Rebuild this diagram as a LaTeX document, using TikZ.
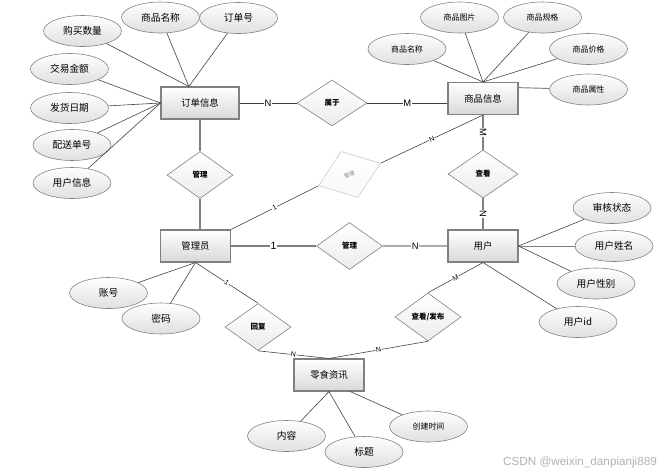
\documentclass[tikz,border=0pt]{standalone}
\usepackage{fontspec}
\setmainfont{Noto Sans CJK SC}
\newfontfamily\lat{Liberation Sans}
\usetikzlibrary{shapes.geometric, positioning}

\begin{document}
\begin{tikzpicture}[
        on grid,
        entity/.style={rectangle, draw=gray, line width=0.9pt, top color=white, bottom color=gray!30, minimum width=2.1cm, minimum height=0.96cm, inner sep=0pt, font=\fontsize{8}{10}\selectfont},
        attr/.style={ellipse, draw=gray, line width=0.5pt, top color=white, bottom color=gray!25, minimum width=2.34cm, minimum height=0.93cm, inner sep=0pt, font=\fontsize{8.3}{10}\selectfont},
        smallattr/.style={attr, font=\fontsize{6.8}{8}\selectfont},
        rel/.style={diamond, draw=gray, line width=0.5pt, top color=white, bottom color=gray!15, minimum width=1.98cm, minimum height=1.41cm, inner sep=0pt, font=\fontsize{6.4}{8}\selectfont\bfseries},
        link/.style={draw=black!75, line width=0.5pt},
        heavy/.style={draw=gray, line width=1.2pt},
        card/.style={font=\lat\fontsize{8}{9}\selectfont, fill=white, inner sep=0.5pt},
        tinycard/.style={card, font=\lat\fontsize{6}{7}\selectfont, sloped}
    ]
%
    \useasboundingbox (0,0) rectangle (20.13,-14.25);
%
    % Entities and relations
    \node[entity, minimum width=2.34cm] (ord) at (6.0,-3.09) {订单信息};
    \node[rel, minimum width=2.1cm, minimum height=1.38cm, right=3.96cm of ord] (bel) {属于};
    \node[entity, above right=0.135cm and 4.53cm of bel] (prd) {商品信息};
    \node[rel, below=2.16cm of ord] (mg1) {管理};
    \node[entity, below left=4.29cm and 0.135cm of ord] (adm) {管理员};
    \node[rel, minimum width=2.1cm, minimum height=1.44cm, below=2.265cm of prd] (chk) {查看};
    \node[entity, below=4.425cm of prd] (usr) {用户};
    \node[rel, right=4.62cm of adm] (mg2) {管理};
    \node[rel, above=2.145cm of mg2, rotate=20, draw=gray!40, top color=white, bottom color=gray!6, text=gray, minimum height=1.47cm, font=\fontsize{4.5}{5}\selectfont] (mg3) {管理};
    \node[rel, below right=2.43cm and 1.875cm of adm] (rep) {回复};
    \node[entity, below right=3.87cm and 4.005cm of adm] (snk) {零食资讯};
    \node[rel, below left=2.13cm and 1.65cm of usr, minimum height=1.44cm] (pub) {查看/发布};
%
    % Attributes
    \node[attr, above left=2.16cm and 3.525cm of ord] (a1) {购买数量};
    \node[attr, above left=2.565cm and 1.185cm of ord] (a2) {商品名称};
    \node[attr, above right=2.55cm and 1.155cm of ord] (a3) {订单号};
    \node[attr, above left=1.02cm and 3.915cm of ord] (a4) {交易金额};
    \node[attr, below left=0.15cm and 3.915cm of ord] (a5) {发货日期};
    \node[attr, below left=1.26cm and 3.84cm of ord] (a6) {配送单号};
    \node[attr, below left=2.4cm and 3.84cm of ord] (a7) {用户信息};
%
    \node[smallattr, above left=2.43cm and 0.705cm of prd] (b1) {商品图片};
    \node[smallattr, above right=2.43cm and 1.785cm of prd] (b2) {商品规格};
    \node[smallattr, above left=1.485cm and 2.28cm of prd] (b3) {商品名称};
    \node[smallattr, above right=1.485cm and 3.165cm of prd] (b4) {商品价格};
    \node[smallattr, above right=0.27cm and 3.165cm of prd] (b5) {商品属性};
%
    \node[attr, above right=1.14cm and 3.87cm of usr] (c1) {审核状态};
    \node[attr, right=3.93cm of usr] (c2) {用户姓名};
    \node[attr, below right=1.125cm and 3.39cm of usr] (c3) {用户性别};
    \node[attr, below right=2.28cm and 2.85cm of usr] (c4) {用户id};
%
    \node[attr, below left=1.41cm and 2.61cm of adm] (d1) {账号};
    \node[attr, below left=2.175cm and 1.035cm of adm] (d2) {密码};
%
    \node[attr, below left=1.83cm and 1.275cm of snk] (e1) {内容};
    \node[attr, below right=2.31cm and 1.05cm of snk] (e2) {标题};
    \node[smallattr, below right=1.545cm and 2.985cm of snk] (e3) {创建时间};
%
    \node[below right=2.61cm and 7.53cm of snk, font=\lat\fontsize{10}{12}\selectfont, text=gray!60] (mark) {CSDN @weixin\_danpianji889};
%
    % Relation lines
    \draw[link] (ord.east) -- node[card] {N} (bel.west);
    \draw[link] (bel.east) -- node[card] {M} (bel.east -| prd.west);
    \draw[heavy] (ord.south) -- (mg1.north);
    \draw[heavy] (mg1.south) -- (mg1.south |- adm.north);
    \draw[heavy] (prd.south) -- node[card, sloped] {M} (chk.north);
    \draw[heavy] (chk.south) -- node[card, sloped] {N} (usr.north);
    \draw[heavy] (adm.east) -- node[card, font=\lat\fontsize{9}{10}\selectfont] {1} (mg2.west);
    \draw[heavy] (mg2.east) -- node[card] {N} (usr.west);
    \draw[link] (adm.north east) -- node[tinycard] {1} (mg3.west);
    \draw[link] (mg3.east) -- node[tinycard] {N} (prd.south);
    \draw[link] (adm.south) -- node[tinycard] {1} (rep.north);
    \draw[link] (rep.south) -- node[tinycard] {N} (snk.north);
    \draw[link] (usr.south) -- node[tinycard] {M} (pub.north);
    \draw[link] (pub.south) -- node[tinycard] {N} (snk.north);
%
    % Attribute lines
    \draw[link] (a1) -- (ord.124);
    \draw[link] (a2) -- (ord.124);
    \draw[link] (a3) -- (ord.124);
    \draw[link] (a4) -- (ord.west);
    \draw[link] (a5) -- (ord.west);
    \draw[link] (a6) -- (ord.west);
    \draw[link] (a7) -- (ord.west);
    \draw[link] (b1) -- (prd.north);
    \draw[link] (b2) -- (prd.north);
    \draw[link] (b3) -- (prd.north);
    \draw[link] (b4) -- (prd.north);
    \draw[heavy, line width=0.8pt] (b5) -- (prd.17);
    \draw[link] (c1) -- (usr.east);
    \draw[heavy, line width=0.8pt] (c2) -- (usr.east);
    \draw[link] (c3) -- (usr.east);
    \draw[link] (c4) -- (usr.south);
    \draw[link] (d1) -- (adm.south);
    \draw[link] (d2) -- (adm.south);
    \draw[link] (e1) -- (snk.south);
    \draw[link] (e2) -- (snk.south);
    \draw[link] (e3) -- (snk.-38);
%
\end{tikzpicture}
\end{document}
